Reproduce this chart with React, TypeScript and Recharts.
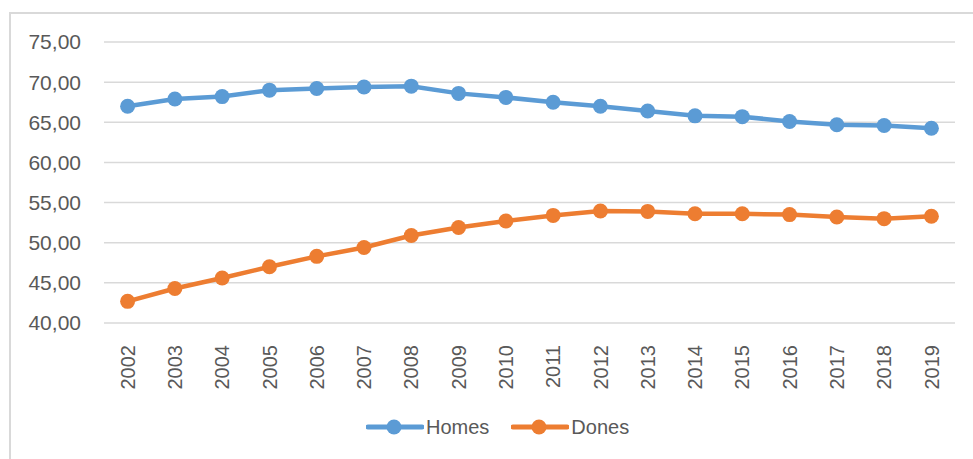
import { CartesianGrid, Legend, Line, LineChart, XAxis, YAxis } from "recharts";

const years = [
  "2002", "2003", "2004", "2005", "2006", "2007", "2008", "2009", "2010",
  "2011", "2012", "2013", "2014", "2015", "2016", "2017", "2018", "2019",
];

const homes = [
  67.0, 67.9, 68.2, 69.0, 69.2, 69.4, 69.5, 68.6, 68.1,
  67.5, 67.0, 66.4, 65.8, 65.7, 65.1, 64.7, 64.6, 64.25,
];

const dones = [
  42.7, 44.3, 45.6, 47.0, 48.3, 49.4, 50.9, 51.9, 52.7,
  53.4, 53.95, 53.9, 53.6, 53.6, 53.5, 53.2, 53.0, 53.3,
];

const yTicks = [40, 45, 50, 55, 60, 65, 70, 75];
const seriesOrder = ["Homes", "Dones"];

const BLUE = "#5b9bd5";
const ORANGE = "#ed7d31";
const TEXT = "#595959";
const FONT = "'Liberation Sans', Arial, sans-serif";

const data = years.map((year, i) => ({ year, Homes: homes[i], Dones: dones[i] }));

function YearTick({ x, y, payload }: any) {
  return (
    <g transform={`translate(${x},${y})`}>
      <text
        transform="rotate(-90)"
        x={-14}
        y={0}
        dy="0.36em"
        textAnchor="end"
        fill={TEXT}
        fontSize={20}
        fontFamily={FONT}
      >
        {payload.value}
      </text>
    </g>
  );
}

function LegendContent({ payload }: any) {
  const items = [...(payload || [])].sort(
    (a: any, b: any) => seriesOrder.indexOf(a.value) - seriesOrder.indexOf(b.value),
  );
  return (
    <div style={{ display: "flex", height: 24, alignItems: "center", paddingLeft: 366 }}>
      {items.map((entry: any) => (
        <div key={entry.value} style={{ display: "flex", alignItems: "center", marginRight: 22 }}>
          <svg width={58} height={20}>
            <line x1={2} y1={10} x2={56} y2={10} stroke={entry.color} strokeWidth={5} strokeLinecap="round" />
            <circle cx={28} cy={10} r={7.5} fill={entry.color} />
          </svg>
          <span style={{ color: TEXT, fontSize: 20, fontFamily: FONT, marginLeft: 2 }}>{entry.value}</span>
        </div>
      ))}
    </div>
  );
}

export default function App() {
  return (
    <div style={{ position: "absolute", left: 0, top: 0, width: 973, height: 459, background: "#fff", overflow: "hidden" }}>
      <div
        style={{
          position: "absolute",
          left: 9,
          top: 12,
          width: 1000,
          height: 500,
          borderTop: "2px solid #d9d9d9",
          borderLeft: "2px solid #d9d9d9",
        }}
      />
      <div style={{ position: "absolute", left: 0, top: 0 }}>
        <LineChart width={973} height={459} data={data} margin={{ top: 42, right: 18, left: 0, bottom: 20 }}>
          <CartesianGrid vertical={false} stroke="#d9d9d9" strokeWidth={1.5} />
          <XAxis
            dataKey="year"
            axisLine={false}
            tickLine={false}
            interval={0}
            height={92}
            padding={{ left: 23.6, right: 23.6 }}
            tick={<YearTick />}
          />
          <YAxis
            domain={[40, 75]}
            ticks={yTicks}
            width={104}
            axisLine={false}
            tickLine={false}
            tickMargin={17}
            tickFormatter={(v: number) => v.toFixed(2).replace(".", ",")}
            tick={{ fill: TEXT, fontSize: 21, fontFamily: FONT }}
          />
          <Legend verticalAlign="bottom" content={<LegendContent />} wrapperStyle={{ left: 0, width: 973 }} />
          <Line
            dataKey="Homes"
            stroke={BLUE}
            strokeWidth={4.5}
            dot={{ r: 7.5, fill: BLUE, stroke: BLUE, strokeWidth: 0 }}
            isAnimationActive={false}
          />
          <Line
            dataKey="Dones"
            stroke={ORANGE}
            strokeWidth={4.5}
            dot={{ r: 7.5, fill: ORANGE, stroke: ORANGE, strokeWidth: 0 }}
            isAnimationActive={false}
          />
        </LineChart>
      </div>
    </div>
  );
}
